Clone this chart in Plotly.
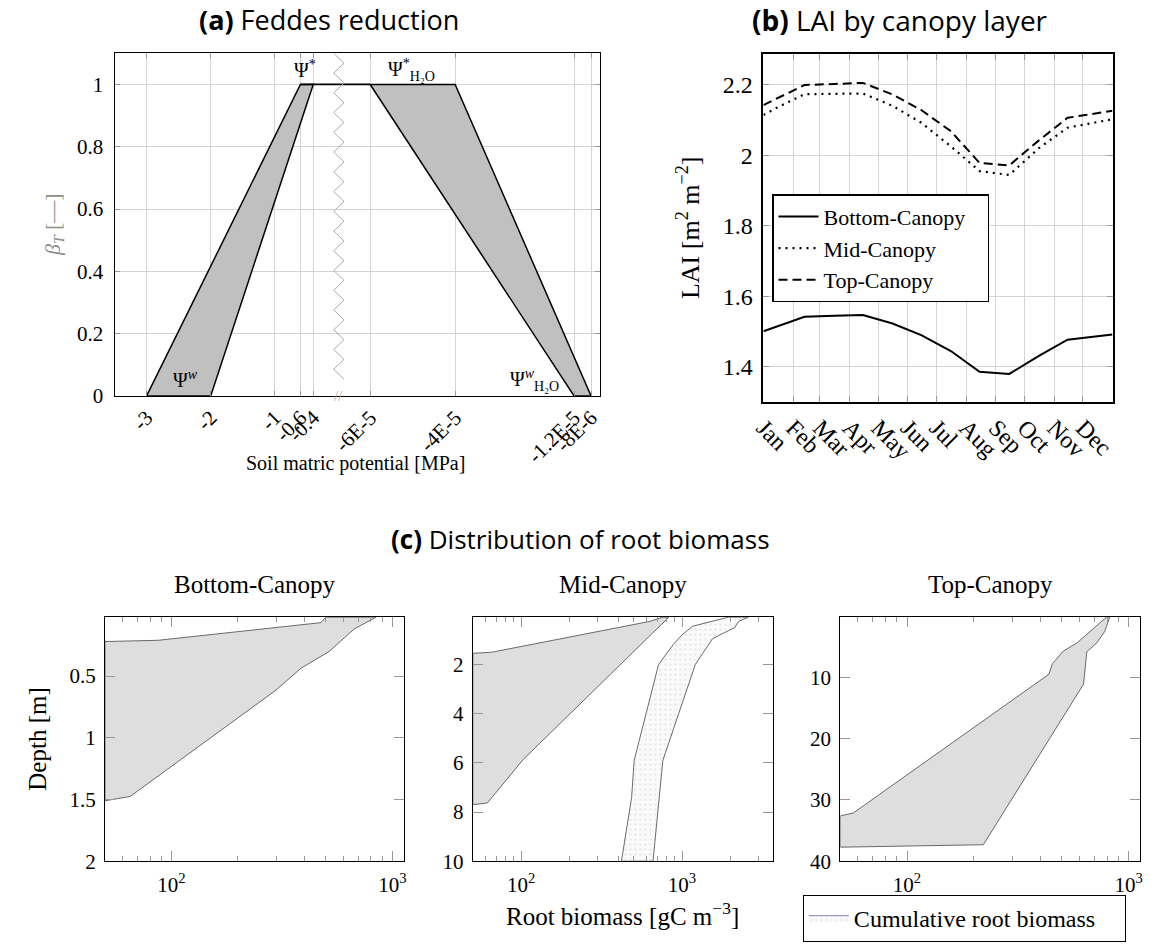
import numpy as np
import plotly.graph_objects as go

W, H = 1153, 949
SERIF = "Liberation Serif"
SANS = "Open Sans"

# ---------------- (a) Feddes reduction ----------------
psi_w = [-3.0, -2.0]            # wilting point range [MPa]
psi_star = [-0.6, -0.4]         # onset of water stress
psi_h2o_star = [-6e-5, -4e-5]   # onset of oxygen stress
psi_h2o_w = [-1.2e-5, -8e-6]    # full oxygen stress
beta_lo, beta_hi = 0.0, 1.0
feddes_ticks = [-3, -2, -1, -0.6, -0.4, -6e-5, -4e-5, -1.2e-5, -8e-6]
feddes_ticktext = ["-3", "-2", "-1", "-0.6", "-0.4", "-6E-5", "-4E-5", "-1.2E-5", "-8E-6"]

# ---------------- (b) LAI by canopy layer ----------------
month_start = [0, 31, 59, 90, 120, 151, 181, 212, 243, 273, 304, 334]
month_names = ["Jan", "Feb", "Mar", "Apr", "May", "Jun", "Jul", "Aug", "Sep", "Oct", "Nov", "Dec"]
lai_day = [0, 15, 43, 74, 104, 135, 165, 196, 226, 257, 288, 318, 349, 365]
lai_bottom = [1.501, 1.515, 1.542, 1.545, 1.547, 1.523, 1.490, 1.445, 1.386, 1.380, 1.431, 1.477, 1.487, 1.492]
lai_mid = [2.114, 2.136, 2.173, 2.174, 2.175, 2.140, 2.092, 2.025, 1.955, 1.944, 2.020, 2.078, 2.094, 2.102]
lai_top = [2.142, 2.162, 2.199, 2.202, 2.205, 2.172, 2.128, 2.068, 1.978, 1.971, 2.042, 2.106, 2.120, 2.126]

# ---------------- (c) Root biomass distribution ----------------
bot_sh_depth = [0.022, 0.067, 0.21, 0.22]
bot_sh_bio = [500, 475, 87, 50]
bot_dp_depth = [0.022, 0.12, 0.30, 0.435, 0.62, 1.475, 1.51]
bot_dp_bio = [845, 670, 518, 387, 294, 65, 50]

mid_sh_depth = [0.076, 0.25, 1.50, 1.55]
mid_sh_bio = [760, 631, 66, 50]
mid_dp_depth = [0.076, 0.58, 5.86, 7.63, 7.70]
mid_dp_bio = [830, 693, 103, 61.6, 50]
mid_cum_lo_depth = [0.076, 0.45, 0.8, 1.2, 2.0, 5.9, 7.4, 10.0]
mid_cum_lo_bio = [1950, 1160, 1000, 880, 715, 504, 486, 420]
mid_cum_hi_depth = [0.076, 0.25, 0.5, 0.95, 2.0, 5.9, 7.6, 10.0]
mid_cum_hi_bio = [2590, 2250, 2130, 1550, 1210, 760, 715, 660]

top_sh_depth = [0.15, 4.36, 5.7, 7.75, 9.47, 32.1, 32.6]
top_sh_bio = [795, 585, 507, 453, 437, 57.3, 50]
top_dp_depth = [0.15, 2.5, 4.36, 5.8, 11.1, 37.3, 37.7]
top_dp_bio = [822, 780, 718, 648, 626, 221, 50]


def to_axis(psi):
    """Broken axis: MPa linear on the left, rescaled near saturation on the right."""
    psi = np.asarray(psi, dtype=float)
    return np.where(psi <= -0.01, psi, 0.489 + (psi + 6e-5) * 0.6626e5)


def px(x):
    return x / W


def py(y):
    return 1 - y / H


def band(d1, b1, d2, b2):
    x = list(b1) + list(b2)[::-1] + [b1[0]]
    y = list(d1) + list(d2)[::-1] + [d1[0]]
    return x, y


NB = "\u00a0"
fig = go.Figure()

# ---- (a) traces ----
xa = to_axis([psi_w[0], psi_star[0], psi_star[1], psi_w[1], psi_w[0]])
fig.add_trace(go.Scatter(x=xa, y=[beta_lo, beta_hi, beta_hi, beta_lo, beta_lo], fill="toself",
                         fillcolor="#c0c0c0", line=dict(color="black", width=1.5), mode="lines",
                         showlegend=False, xaxis="x", yaxis="y"))
xb = to_axis([psi_h2o_star[0], psi_h2o_star[1], psi_h2o_w[1], psi_h2o_w[0], psi_h2o_star[0]])
fig.add_trace(go.Scatter(x=xb, y=[beta_hi, beta_hi, beta_lo, beta_lo, beta_hi], fill="toself",
                         fillcolor="#c0c0c0", line=dict(color="black", width=1.5), mode="lines",
                         showlegend=False, xaxis="x", yaxis="y"))
fig.add_trace(go.Scatter(x=to_axis([psi_star[0], psi_h2o_star[0]]), y=[beta_hi, beta_hi], mode="lines",
                         line=dict(color="black", width=1.8), showlegend=False, xaxis="x", yaxis="y"))
# axis-break zigzag (decoration)
BREAK = 0.0
zz_y = np.arange(1.1, 0.03, -0.0317)
zz_x = BREAK + 0.08 * np.where(np.arange(len(zz_y)) % 2 == 0, -1, 1)
fig.add_trace(go.Scatter(x=zz_x, y=zz_y, mode="lines", line=dict(color="#aaaaaa", width=1),
                         showlegend=False, xaxis="x", yaxis="y", hoverinfo="skip"))

# ---- (b) traces ----
fig.add_trace(go.Scatter(x=lai_day, y=lai_bottom, mode="lines", name="Bottom-Canopy" + NB * 3,
                         line=dict(color="black", width=2), xaxis="x2", yaxis="y2", legend="legend"))
fig.add_trace(go.Scatter(x=lai_day, y=lai_mid, mode="lines", name="Mid-Canopy",
                         line=dict(color="black", width=2.2, dash="2px,5px"), xaxis="x2", yaxis="y2", legend="legend"))
fig.add_trace(go.Scatter(x=lai_day, y=lai_top, mode="lines", name="Top-Canopy",
                         line=dict(color="black", width=2, dash="9px,5px"), xaxis="x2", yaxis="y2", legend="legend"))

# ---- (c) traces ----
GREY_FILL = "#dedede"
GREY_LINE = "#5a5a5a"
for (d1, b1, d2, b2, ax) in [
    (bot_sh_depth, bot_sh_bio, bot_dp_depth, bot_dp_bio, "3"),
    (mid_sh_depth, mid_sh_bio, mid_dp_depth, mid_dp_bio, "4"),
    (top_sh_depth, top_sh_bio, top_dp_depth, top_dp_bio, "5"),
]:
    bx, by = band(d1, b1, d2, b2)
    fig.add_trace(go.Scatter(x=bx, y=by, fill="toself", fillcolor=GREY_FILL, mode="lines",
                             line=dict(color=GREY_LINE, width=0.9), showlegend=False,
                             xaxis="x" + ax, yaxis="y" + ax))

pattern = dict(shape=".", fgcolor="#d6d6d6", bgcolor="#fbfbfb", size=5, solidity=0.2)
cx, cy = band(mid_cum_lo_depth, mid_cum_lo_bio, mid_cum_hi_depth, mid_cum_hi_bio)
fig.add_trace(go.Scatter(x=cx, y=cy, fill="toself", fillcolor="#fbfbfb", fillpattern=pattern, mode="lines",
                         line=dict(color=GREY_LINE, width=0.9), showlegend=False, xaxis="x4", yaxis="y4"))
fig.add_trace(go.Scatter(x=[None], y=[None], fill="toself", fillcolor="#fbfbfb", fillpattern=pattern,
                         mode="lines", line=dict(color="#9a9ad0", width=1.2),
                         name="Cumulative root biomass" + NB * 4,
                         legend="legend2", xaxis="x4", yaxis="y4"))

# ---------------- layout ----------------
tickfont_a = dict(family=SERIF, size=21, color="black")
tickfont_b = dict(family=SERIF, size=24, color="black")
tickfont_c = dict(family=SERIF, size=21, color="black")

common = dict(showline=True, linecolor="black", zeroline=False, ticks="inside", tickcolor="#999999",
              mirror="ticks")

layout = dict(
    width=W, height=H, margin=dict(l=0, r=0, t=0, b=0),
    plot_bgcolor="white", paper_bgcolor="white", showlegend=True,
    xaxis=dict(domain=[px(104), px(596)], anchor="y", range=[-3.5, 4.07],
               tickvals=to_axis(feddes_ticks), ticktext=feddes_ticktext, tickangle=-45,
               showgrid=True, gridcolor="#d4d4d4", gridwidth=1, ticklen=5, linewidth=1.3,
               tickfont=tickfont_a, **common),
    yaxis=dict(domain=[py(401), py(54)], anchor="x", range=[0, 1.1],
               tickvals=[0, 0.2, 0.4, 0.6, 0.8, 1.0], ticktext=["0", "0.2", "0.4", "0.6", "0.8", "1"],
               showgrid=True, gridcolor="#d4d4d4", gridwidth=1, ticklen=5, linewidth=1.3,
               ticklabelstandoff=6, tickfont=tickfont_a, **common),
    xaxis2=dict(domain=[px(762), px(1116)], anchor="y2", range=[0, 365],
                tickvals=month_start, ticktext=month_names, tickangle=45,
                showgrid=True, gridcolor="#d4d4d4", gridwidth=1, ticklen=6, linewidth=2,
                tickfont=tickfont_b, **common),
    yaxis2=dict(domain=[py(407.3), py(54.3)], anchor="x2", range=[1.30, 2.288],
                tickvals=[1.4, 1.6, 1.8, 2.0, 2.2], ticktext=["1.4", "1.6", "1.8", "2", "2.2"],
                showgrid=True, gridcolor="#d4d4d4", gridwidth=1, ticklen=6, linewidth=2,
                ticklabelstandoff=4, tickfont=tickfont_b, **common),
    legend=dict(x=px(770.7), y=py(196.7), xanchor="left", yanchor="top", bgcolor="white",
                bordercolor="black", borderwidth=1.5, font=dict(family=SERIF, size=22, color="black"),
                itemwidth=40, tracegroupgap=0),
    legend2=dict(x=px(802), y=py(906), xanchor="left", yanchor="top", bgcolor="white",
                 bordercolor="black", borderwidth=1, font=dict(family=SERIF, size=24, color="black"),
                 itemwidth=40),
)

c_x_dom = [[94.3, 398], [467.3, 771.7], [840, 1144]]
c_x_hi = [np.log10(1135), np.log10(3680), np.log10(1127)]
c_y_rng = [[2, 0.022], [10, 0.076], [40, 0.15]]
c_y_ticks = [[0.5, 1, 1.5, 2], [2, 4, 6, 8, 10], [10, 20, 30, 40]]
c_y_text = [["0.5", "1", "1.5", "2"], ["2", "4", "6", "8", "10"], ["10", "20", "30", "40"]]
minor_vals = [60, 70, 80, 90, 200, 300, 400, 500, 600, 700, 800, 900, 2000, 3000]
for i in range(3):
    n = str(i + 3)
    m = str(i + 6)
    xrng = [np.log10(50), c_x_hi[i]]
    layout["xaxis" + n] = dict(domain=[px(c_x_dom[i][0]), px(c_x_dom[i][1])], anchor="y" + n,
                               type="log", range=xrng,
                               tickvals=[100, 1000], ticktext=["10<sup>2</sup>", "10<sup>3</sup>"],
                               ticklen=10, linewidth=1.2, showgrid=False, tickfont=tickfont_c,
                               ticklabelstandoff=4,
                               minor=dict(tickvals=minor_vals, ticks="inside", ticklen=5,
                                          tickcolor="#999999", showgrid=False),
                               **common)
    # top copy of the log axis, to show the minor ticks on the upper frame as well
    layout["xaxis" + m] = dict(overlaying="x" + n, anchor="y" + n, side="top", type="log", range=xrng,
                               tickvals=[100, 1000], ticks="inside", ticklen=10, tickcolor="#999999",
                               showticklabels=False, showline=False, showgrid=False, zeroline=False,
                               minor=dict(tickvals=minor_vals, ticks="inside", ticklen=5,
                                          tickcolor="#999999", showgrid=False))
    layout["yaxis" + n] = dict(domain=[py(872.3), py(625)], anchor="x" + n, range=c_y_rng[i],
                               tickvals=c_y_ticks[i], ticktext=c_y_text[i], ticklen=10, linewidth=1.2,
                               showgrid=False, tickfont=tickfont_c, ticklabelstandoff=4, **common)

fig.update_layout(**layout)

ann = []


def add_text(text, x, y, size, family=SERIF, color="black", angle=0, ref="paper", xa="x", ya="y"):
    d = dict(text=text, showarrow=False, font=dict(family=family, size=size, color=color),
             textangle=angle, xanchor="center", yanchor="middle")
    if ref == "paper":
        d.update(x=px(x), y=py(y), xref="paper", yref="paper")
    else:
        d.update(x=x, y=y, xref=xa, yref=ya)
    ann.append(d)


add_text("<b>(a)</b> Feddes reduction", 321, 20, 27, family=SANS)
add_text("<b>(b)</b> LAI by canopy layer", 901, 20, 28, family=SANS)
add_text("<b>(c)</b> Distribution of root biomass", 577, 546, 26, family=SANS)
add_text("Soil matric potential [MPa]", 348, 469, 20)
add_text("<i>β</i><sub><i>T</i></sub> [—]", 42, 227.5, 22, color="#8c8c8c", angle=-90)
add_text("LAI [m<sup>2</sup> m<sup>−2</sup>]", 686, 230.5, 26, angle=-90)
add_text("Bottom-Canopy", 246, 592, 25)
add_text("Mid-Canopy", 619.5, 592, 25)
add_text("Top-Canopy", 992, 592, 25)
add_text("Root biomass [gC m<sup>−3</sup>]", 619.5, 926, 25)
add_text("Depth [m]", 25, 748.5, 25, angle=-90)

# Psi labels in panel (a)
add_text("Ψ<sup>*</sup>", -0.534, 1.05, 20, ref="data")
add_text("Ψ<sup>*</sup><sub>H₂O</sub>", 1.13, 1.045, 20, ref="data")
add_text("Ψ<sup><i>w</i></sup>", -2.395, 0.055, 20, ref="data")
add_text("Ψ<sup><i>w</i></sup><sub>H₂O</sub>", 3.05, 0.05, 20, ref="data")
add_text("//", BREAK, 0.0, 15, color="#aaaaaa", ref="data")

fig.update_layout(annotations=ann)
fig.write_html("out.html")
